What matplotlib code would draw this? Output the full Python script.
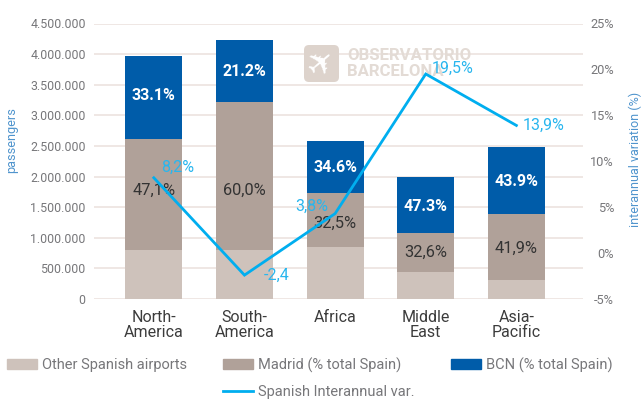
import matplotlib
matplotlib.use("Agg")
import matplotlib.pyplot as plt
from matplotlib.patches import Patch, FancyBboxPatch
from matplotlib.lines import Line2D
from matplotlib.transforms import IdentityTransform

regions = ["North-\nAmerica", "South-\nAmerica", "Africa", "Middle\nEast", "Asia-\nPacific"]
other = [800000, 800000, 855000, 446000, 310000]
madrid = [1813000, 2420000, 875000, 624000, 1080000]
bcn = [1357000, 1010000, 850000, 930000, 1100000]
var_pct = [8.2, -2.4, 4.3, 19.5, 13.9]
bcn_labels = ["33.1%", "21.2%", "34.6%", "47.3%", "43.9%"]
madrid_labels = ["47,1%", "60,0%", "32,5%", "32,6%", "41,9%"]
var_labels = ["8,2%", "-2,4", "3,8%", "19,5%", "13,9%"]
left_ticks = [0, 500000, 1000000, 1500000, 2000000, 2500000, 3000000, 3500000, 4000000, 4500000]
right_ticks = [-5, 0, 5, 10, 15, 20, 25]

W, H = 642, 401
plt.rcParams["font.family"] = ["Roboto", "DejaVu Sans"]
C_OTHER, C_MAD, C_BCN, C_LINE = "#cec2bb", "#b0a199", "#005ca9", "#00aeef"
C_TICK, C_AXT = "#77777a", "#4f94cd"

fig = plt.figure(figsize=(W / 100, H / 100), dpi=100)
L, R, T, B = 94, 583, 23.5, 299
ax = fig.add_axes([L / W, 1 - B / H, (R - L) / W, (B - T) / H])
ax2 = ax.twinx()
ax.set_zorder(1)
ax2.set_zorder(2)
ax2.patch.set_visible(False)
ax.patch.set_visible(False)

x = list(range(len(regions)))
bw = 0.63
bot2 = [a + b for a, b in zip(other, madrid)]
ax.bar(x, other, bw, color=C_OTHER, zorder=3)
ax.bar(x, madrid, bw, bottom=other, color=C_MAD, zorder=3)
ax.bar(x, bcn, bw, bottom=bot2, color=C_BCN, zorder=3)

ax.set_xlim(-0.66, 4.735)
ax.set_ylim(0, 4500000)
ax.set_yticks(left_ticks)
ax.set_yticklabels([f"{v:,}".replace(",", ".") for v in left_ticks], fontsize=8.9, color=C_TICK)
ax.set_xticks(x)
ax.set_xticklabels(regions, fontsize=11.5, color="#3c3c3c", linespacing=1.0)
ax.tick_params(axis="both", length=0)
ax.tick_params(axis="y", pad=6)
ax.tick_params(axis="x", pad=8)
ax.grid(axis="y", color="#ece3df", lw=1.2, zorder=0)
for s in ax.spines.values():
    s.set_visible(False)
for s in ax2.spines.values():
    s.set_visible(False)

ax.set_ylabel("passengers", fontsize=9.2, color=C_AXT)
ax.yaxis.set_label_coords((18 - L) / (R - L), 0.577)

bcn_y = [3330000, 3710000, 2156000, 1503000, 1927000]
for i in x:
    ax.text(i, bcn_y[i], bcn_labels[i], ha="center", va="center",
            color="white", fontsize=11.5, fontweight="bold", zorder=5)
mad_y = [1780000, 1780000, 1240000, 770000, 830000]
for i in x:
    ax.text(i, mad_y[i], madrid_labels[i], ha="center", va="center",
            color="#333333", fontsize=11.8, zorder=5)

ax2.plot(x, var_pct, color=C_LINE, lw=2, solid_joinstyle="miter", zorder=6)
ax2.set_ylim(-5, 25)
ax2.set_yticks(right_ticks)
ax2.set_yticklabels([f"{v}%" for v in right_ticks], fontsize=9.2, color=C_TICK, ha="right")
ax2.tick_params(axis="y", length=0, pad=22.3)
ax2.set_ylabel("interannual variation (%)", fontsize=9, color=C_AXT)
ax2.yaxis.set_label_coords((629 - L) / (R - L), 0.508)

off = [(24, 10), (32, 0), (-23, 7), (27, 6), (27, 0)]
for i in x:
    ax2.annotate(var_labels[i], (i, var_pct[i]), xytext=(off[i][0] * 0.72, off[i][1] * 0.72),
                 textcoords="offset points", ha="center", va="center",
                 color="#29b6ee", fontsize=11.5, zorder=7)

# watermark
wm = "#e3dbd5"
fig.add_artist(FancyBboxPatch((304, H - 82), 35, 37, boxstyle="round,pad=0,rounding_size=5",
                              fc="#ddd3cc", ec="none", transform=IdentityTransform(), zorder=1.5))
fig.text(321.5 / W, 1 - 63.5 / H, "\u2708", color="white", fontsize=24, ha="center", va="center",
         rotation=40, family=["DejaVu Sans"], zorder=1.6)
fig.text(347 / W, 1 - 55 / H, "OBSERVATORIO", color=wm, fontsize=12.1, fontweight="bold",
         ha="left", va="center", zorder=1.6)
fig.text(347 / W, 1 - 72 / H, "BARCELONA", color=wm, fontsize=12.1, fontweight="bold",
         ha="left", va="center", zorder=1.6)

items = [
    (Patch(color=C_OTHER), "Other Spanish airports", 7, 365),
    (Patch(color=C_MAD), "Madrid (% total Spain)", 223, 365),
    (Patch(color=C_BCN), "BCN (% total Spain)", 451, 365),
    (Line2D([0], [0], color=C_LINE, lw=2), "Spanish Interannual var.", 223, 392),
]
for h, lab, px, py in items:
    lg = fig.legend([h], [lab], loc="center left", bbox_to_anchor=(px / W, 1 - py / H),
                    frameon=False, fontsize=10.5, handlelength=30 / 14.6, handleheight=0.7,
                    handletextpad=0.35, borderpad=0, borderaxespad=0, labelcolor="#77777a")

fig.savefig("out.png", dpi=100)
